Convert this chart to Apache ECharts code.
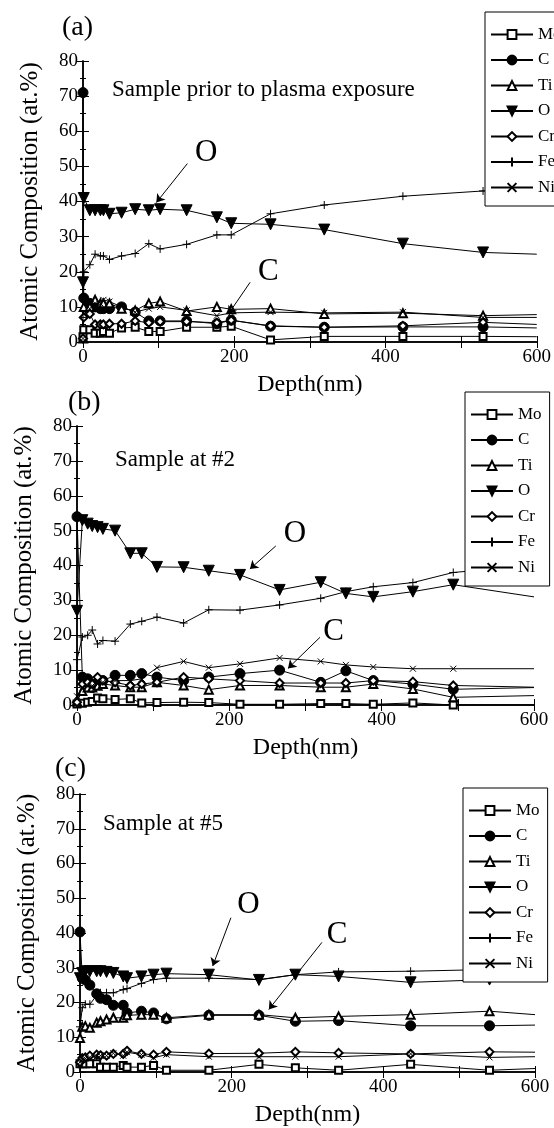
<!DOCTYPE html>
<html>
<head>
<meta charset="utf-8">
<script src="https://cdn.jsdelivr.net/npm/echarts@6/dist/echarts.min.js"></script>
<style>
  html, body { margin: 0; background: #fff; }
  #chart { width: 554px; height: 1128px; }
</style>
</head>
<body>
<div id="chart"></div>
<script>
const names = ['Mo', 'C', 'Ti', 'O', 'Cr', 'Fe', 'Ni'];

// (a) sample prior to plasma exposure
const depthA = [0, 1, 9, 16, 23, 27, 35, 51, 69, 87, 102, 137, 177, 196, 248, 319, 423, 529];
const moA = [1.5, 3.5, 3.5, 2.5, 2.5, 3, 2.5, 4, 4.2, 3, 3, 4.2, 4.2, 4.5, 0.6, 1.6, 1.6, 1.6];
const cA  = [71, 12.5, 11, 10, 9.5, 9.5, 9.5, 10, 8.5, 6, 6, 6, 5.2, 6.2, 4.5, 4.2, 4.3, 4.3];
const tiA = [1, 10, 10, 12, 11, 11, 11, 9.5, 9, 11, 11.5, 8.8, 10, 9.3, 9.5, 8, 8.2, 7.5];
const oA  = [17, 41, 37.5, 37.5, 37.5, 37.5, 36.5, 36.8, 37.8, 37.5, 37.8, 37.5, 35.5, 33.8, 33.5, 32, 28, 25.5];
const crA = [1, 7, 8, 5, 5, 5, 5.2, 5.2, 6, 5.5, 5.8, 5.8, 5.5, 6.2, 4.6, 4.2, 4.6, 5.6];
const feA = [7, 20, 22, 25, 24.5, 24.5, 23.5, 24.5, 25.2, 28, 26.5, 27.8, 30.5, 30.5, 36.5, 39, 41.5, 43];
const niA = [1, 8, 9.5, 11, 11, 12, 11.5, 10, 8.5, 9.5, 10, 9, 7.5, 8.3, 8.5, 8.3, 8.5, 7];
// where each line leaves the frame at 600 nm (Mo, C, Ti, O, Cr, Fe, Ni)
const edgeA = [1.5, 4, 7.8, 25, 5, 44, 7];

// (b) sample at #2
const depthB = [0, 7, 14, 20, 27, 34, 50, 70, 85, 105, 140, 173, 214, 266, 320, 353, 389, 441, 494];
const moB = [0.3, 0.5, 0.8, 1, 2, 1.8, 1.6, 1.8, 0.6, 0.7, 0.8, 0.7, 0.2, 0.2, 0.4, 0.4, 0.2, 0.6, 0];
const cB  = [54, 8, 7.5, 5, 6.5, 7, 8.5, 8.5, 9, 8, 7, 8, 9, 10, 6.5, 9.8, 7, 6, 4.5];
const tiB = [1, 4, 5, 5, 5.5, 6, 5.6, 5.1, 5.1, 6.5, 5.6, 4.4, 5.6, 5.6, 5.1, 5.1, 6, 4.6, 2.2];
const oB  = [27, 53, 52, 51.3, 51, 50.5, 50, 43.5, 43.5, 39.6, 39.5, 38.5, 37.3, 33, 35.2, 32, 31, 32.5, 34.5];
const crB = [0.8, 6, 6.5, 6, 8, 7, 6.5, 5.6, 6, 6.5, 8, 7.5, 7, 6.3, 6.3, 6.3, 7, 6.7, 5.6];
const feB = [13, 19.5, 20, 21.5, 17.5, 18.5, 18.3, 23.2, 24, 25.2, 23.5, 27.3, 27.2, 28.7, 30.6, 32.5, 33.9, 35.1, 38];
const niB = [2.5, 5, 5.5, 5.5, 6, 6.5, 7, 7, 7.5, 10.7, 12.5, 10.7, 11.8, 13.5, 12.5, 11.5, 10.9, 10.4, 10.4];
const edgeB = [0, 5, 2.7, 31, 5.1, 40, 10.4];

// (c) sample at #5
const depthC = [0, 3, 7, 13, 22, 27, 35, 44, 57, 62, 81, 97, 114, 170, 236, 284, 341, 436, 540];
const moC = [2.4, 2.4, 2.4, 2.4, 2.4, 1.4, 1.4, 1.4, 1.9, 1.4, 1.4, 1.9, 0.5, 0.5, 2.2, 1.2, 0.5, 2.2, 0.5];
const cC  = [40.3, 27, 26.5, 25, 22.5, 21.2, 20.8, 19.2, 19.2, 17, 17.5, 17, 15.3, 16.3, 16.3, 14.6, 14.8, 13.3, 13.3];
const tiC = [9.8, 13, 13.2, 12.7, 14.2, 14.6, 15.1, 15.6, 15.6, 16.3, 16.5, 16.5, 15.6, 16.5, 16.5, 15.6, 16, 16.5, 17.5];
const oC  = [27, 28.5, 29, 29, 29, 29, 28.8, 28.5, 27.5, 27, 27.5, 28, 28.3, 28, 26.5, 28, 27.5, 25.8, 26.6];
const crC = [2.8, 4, 4.2, 4.7, 5, 4.8, 4.7, 5.2, 5.2, 6.1, 5.2, 5, 5.8, 5.3, 5.4, 5.8, 5.5, 5.2, 5.8];
const feC = [13, 18.5, 19.5, 19.5, 22, 22.8, 22.8, 22.8, 23.7, 24, 25.5, 26.6, 27, 27, 26.6, 28, 28.8, 29, 29.5];
const niC = [2.8, 3.5, 3.8, 4.2, 4.5, 4.7, 4.7, 5.4, 4.7, 5.7, 5, 4.1, 5, 4.4, 4.4, 4.4, 4.4, 5.2, 4.2];
const edgeC = [1, 13.5, 16.5, 26.5, 5.7, 29.8, 4.4];

const panelLabels = ['(a)', '(b)', '(c)'];
const sampleLabels = ['Sample prior to plasma exposure', 'Sample at #2', 'Sample at #5'];

// "O" / "C" callouts, in data coordinates (depth, at.%)
const notesA = [
  { text: 'O', at: [163, 53.9], from: [138, 50.8], to: [97, 39.7] },
  { text: 'C', at: [245, 20.1], from: [221, 17], to: [192, 7.9] },
];
const notesB = [
  { text: 'O', at: [286, 49], from: [261, 45.6], to: [227, 39] },
  { text: 'C', at: [337, 21], from: [319, 19.4], to: [277, 10.5] },
];
const notesC = [
  { text: 'O', at: [222, 48.1], from: [199, 44.4], to: [175, 30.5] },
  { text: 'C', at: [339, 39.6], from: [319, 37.3], to: [249, 18] },
];

const panels = [
  { depth: depthA, values: [moA, cA, tiA, oA, crA, feA, niA], edge: edgeA, notes: notesA },
  { depth: depthB, values: [moB, cB, tiB, oB, crB, feB, niB], edge: edgeB, notes: notesB },
  { depth: depthC, values: [moC, cC, tiC, oC, crC, feC, niC], edge: edgeC, notes: notesC },
];

const serif = '"Liberation Serif", "DejaVu Serif", serif';

const marker = {
  Mo: { symbol: 'emptyRect', size: 7 },
  C:  { symbol: 'circle', size: 10 },
  Ti: { symbol: 'emptyTriangle', size: 8 },
  O:  { symbol: 'triangle', size: 11, rotate: 180 },
  Cr: { symbol: 'emptyDiamond', size: 8 },
  Fe: { symbol: 'path://M0,5H10M5,0V10', size: 8 },
  Ni: { symbol: 'path://M0,0L10,10M10,0L0,10', size: 6 },
};

const grids = [
  { left: 83, top: 61, width: 456, height: 281 },
  { left: 77, top: 426, width: 457, height: 279 },
  { left: 80, top: 794, width: 455, height: 279 },
];
const legendPos = [
  { left: 485, top: 12 },
  { left: 465, top: 392 },
  { left: 463, top: 788 },
];
const textPos = [
  { label: [62, 14], sample: [112, 78] },
  { label: [68, 389], sample: [115, 448] },
  { label: [55, 755], sample: [103, 812] },
];

const black = '#000';
const frameLine = { lineStyle: { color: black, width: 1.5 } };

const xAxes = [];
const yAxes = [];
const series = [];
const legends = [];
const graphics = [];

panels.forEach((p, pi) => {
  xAxes.push({
    type: 'value', gridIndex: pi, position: 'bottom', min: 0, max: 600, interval: 100,
    name: 'Depth(nm)', nameLocation: 'middle', nameGap: 31,
    nameTextStyle: { fontFamily: serif, fontSize: 24, color: black },
    axisLine: frameLine,
    axisTick: { inside: true, length: 6, lineStyle: { color: black } },
    axisLabel: {
      margin: 6, fontFamily: serif, fontSize: 19, color: black,
      formatter: (v) => (v % 200 === 0 ? String(v) : ''),
    },
    splitLine: { show: false },
  });
  xAxes.push({
    type: 'value', gridIndex: pi, position: 'top', min: 0, max: 600, interval: 100,
    axisLine: frameLine,
    axisTick: { inside: true, length: 6, lineStyle: { color: black } },
    axisLabel: { show: false },
    splitLine: { show: false },
  });
  yAxes.push({
    type: 'value', gridIndex: pi, position: 'left', min: 0, max: 80, interval: 10,
    name: 'Atomic Composition (at.%)', nameLocation: 'middle', nameGap: 40,
    nameTextStyle: { fontFamily: serif, fontSize: 25, color: black },
    axisLine: frameLine,
    axisTick: { inside: true, length: 6, lineStyle: { color: black } },
    minorTick: { show: true, splitNumber: 2, length: 3, lineStyle: { color: black } },
    axisLabel: { margin: 5, fontFamily: serif, fontSize: 19, color: black },
    splitLine: { show: false },
  });
  yAxes.push({
    type: 'value', gridIndex: pi, position: 'right', min: 0, max: 80, interval: 10,
    axisLine: frameLine,
    axisTick: { inside: true, length: 6, lineStyle: { color: black } },
    minorTick: { show: true, splitNumber: 2, length: 3, lineStyle: { color: black } },
    axisLabel: { show: false },
    splitLine: { show: false },
  });

  names.forEach((n, k) => {
    const data = p.depth.map((d, i) => [d, p.values[k][i]]);
    data.push({ value: [600, p.edge[k]], symbol: 'none' });
    const s = {
      name: n, type: 'line', xAxisIndex: 2 * pi, yAxisIndex: 2 * pi,
      data,
      symbol: marker[n].symbol,
      symbolSize: marker[n].size,
      symbolRotate: marker[n].rotate || 0,
      lineStyle: { color: black, width: 1 },
      itemStyle: { color: black, borderColor: black, borderWidth: 1 },
      emphasis: { disabled: true },
      clip: true,
    };
    if (n === 'O') {
      s.markLine = {
        silent: true,
        symbol: ['none', 'arrow'],
        symbolSize: 8,
        lineStyle: { color: black, width: 1, type: 'solid' },
        label: { show: false },
        data: p.notes.map((a) => [{ coord: a.from }, { coord: a.to }]),
      };
      s.markPoint = {
        silent: true,
        symbol: 'circle',
        symbolSize: 1,
        itemStyle: { color: 'rgba(0,0,0,0)' },
        label: { show: true, position: 'inside', color: black, fontFamily: serif, fontSize: 31 },
        data: p.notes.map((a) => ({ coord: a.at, label: { formatter: a.text } })),
      };
    }
    series.push(s);
  });

  legends.push({
    orient: 'vertical',
    left: legendPos[pi].left, top: legendPos[pi].top,
    data: names,
    backgroundColor: '#fff',
    borderColor: black, borderWidth: 1, borderRadius: 0,
    padding: [14, 8, 10, 5],
    itemWidth: 42, itemHeight: 11, itemGap: 8.5,
    selectedMode: false,
    textStyle: { fontFamily: serif, fontSize: 17, color: black, lineHeight: 14 },
  });

  graphics.push({
    type: 'text', left: textPos[pi].label[0], top: textPos[pi].label[1],
    style: { text: panelLabels[pi], font: '28px ' + serif, fill: black },
  });
  graphics.push({
    type: 'text', left: textPos[pi].sample[0], top: textPos[pi].sample[1],
    style: { text: sampleLabels[pi], font: '23px ' + serif, fill: black },
  });
});

const chart = echarts.init(document.getElementById('chart'));
chart.setOption({
  animation: false,
  backgroundColor: '#fff',
  grid: grids,
  xAxis: xAxes,
  yAxis: yAxes,
  legend: legends,
  graphic: graphics,
  series,
});
window.addEventListener('resize', () => chart.resize());
</script>
</body>
</html>
